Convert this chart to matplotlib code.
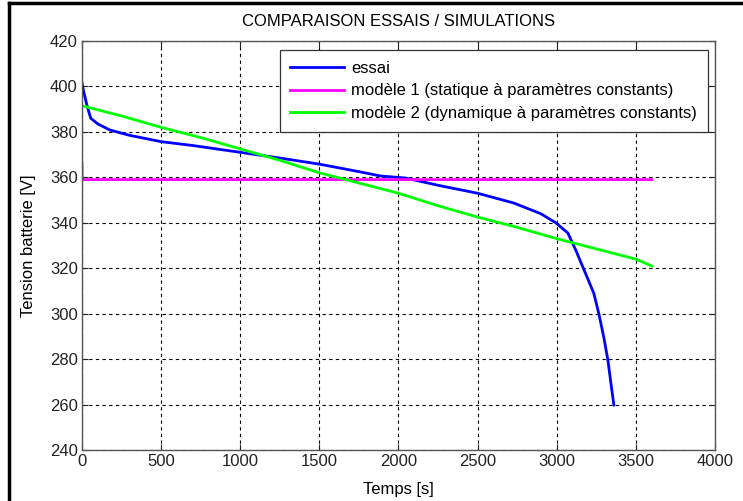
import numpy as np
import matplotlib
matplotlib.use("Agg")
from matplotlib import pyplot as plt
from matplotlib.lines import Line2D

plt.rcParams['font.family'] = ['Liberation Sans', 'DejaVu Sans']

# essai (mesure)
t_essai = [0, 10, 30, 55, 100, 177, 300, 500, 700, 1000, 1250, 1500, 1750, 1886,
           2044, 2250, 2500, 2728, 2899, 2994, 3070, 3120, 3165, 3234, 3266, 3297,
           3323, 3342, 3361]
v_essai = [401.5, 398, 392, 386, 383.5, 380.8, 378.5, 375.7, 374, 371, 368.5, 365.8,
           362.5, 360.6, 359.7, 356.5, 353, 348.7, 344, 340, 335.5, 328, 320.5, 309,
           300, 289.7, 279.6, 269.5, 259.8]

# modele 1 (statique)
t_mod1 = [0, 1, 3600]
v_mod1 = [366, 359, 359]

# modele 2 (dynamique)
t_mod2 = [0, 250, 500, 750, 1000, 1250, 1500, 1750, 2000, 2250, 2500, 2750, 3000,
          3250, 3500, 3600]
v_mod2 = [391.5, 387, 382, 377.5, 372.5, 367.5, 362, 357.5, 353, 347.5, 342.5, 338,
          333, 328.5, 324, 321]

labels = ["essai",
          "modèle 1 (statique à paramètres constants)",
          "modèle 2 (dynamique à paramètres constants)"]

FS = 12

fig = plt.figure(figsize=(7.43, 5.01), dpi=100)
ax = fig.add_axes([82 / 743, 1 - 450 / 501, (715 - 82) / 743, (450 - 41) / 501])

ax.plot(t_essai, v_essai, color=(0, 0, 1), lw=2.0, label=labels[0])
ax.plot(t_mod1, v_mod1, color=(1, 0, 1), lw=2.0, label=labels[1])
ax.plot(t_mod2, v_mod2, color=(0, 1, 0), lw=2.0, label=labels[2])

ax.set_xlim(0, 4000)
ax.set_ylim(240, 420)
ax.set_xticks(np.arange(0, 4001, 500))
ax.set_yticks(np.arange(240, 421, 20))
ax.grid(True, color='black', linestyle=(0, (3, 3)), linewidth=0.8)
ax.tick_params(direction='in', top=True, right=True, length=4, labelsize=FS,
               colors='#222222', pad=3)
for s in ax.spines.values():
    s.set_color('#555555')
    s.set_linewidth(1.0)

ax.set_title("COMPARAISON ESSAIS / SIMULATIONS", fontsize=FS, pad=11)
ax.set_xlabel("Temps [s]", fontsize=FS, labelpad=9)
ax.set_ylabel("Tension batterie [V]", fontsize=FS, labelpad=10)

leg = ax.legend(loc='upper right', bbox_to_anchor=(708 / 743, 1 - 50 / 501),
                bbox_transform=fig.transFigure, fontsize=FS, fancybox=False,
                framealpha=1, edgecolor='#333333', handlelength=3.2,
                handletextpad=0.45, borderaxespad=0, borderpad=0.65,
                labelspacing=0.45)
leg.get_frame().set_linewidth(0.9)

# cadre noir partiel du document
fig.add_artist(Line2D([9 / 743, 9 / 743], [0, 1 - 3 / 501], color='black', lw=2.5,
                      transform=fig.transFigure))
fig.add_artist(Line2D([9 / 743, 1], [1 - 3 / 501, 1 - 3 / 501], color='black', lw=2.5,
                      transform=fig.transFigure))

fig.savefig("out.png", dpi=100)
